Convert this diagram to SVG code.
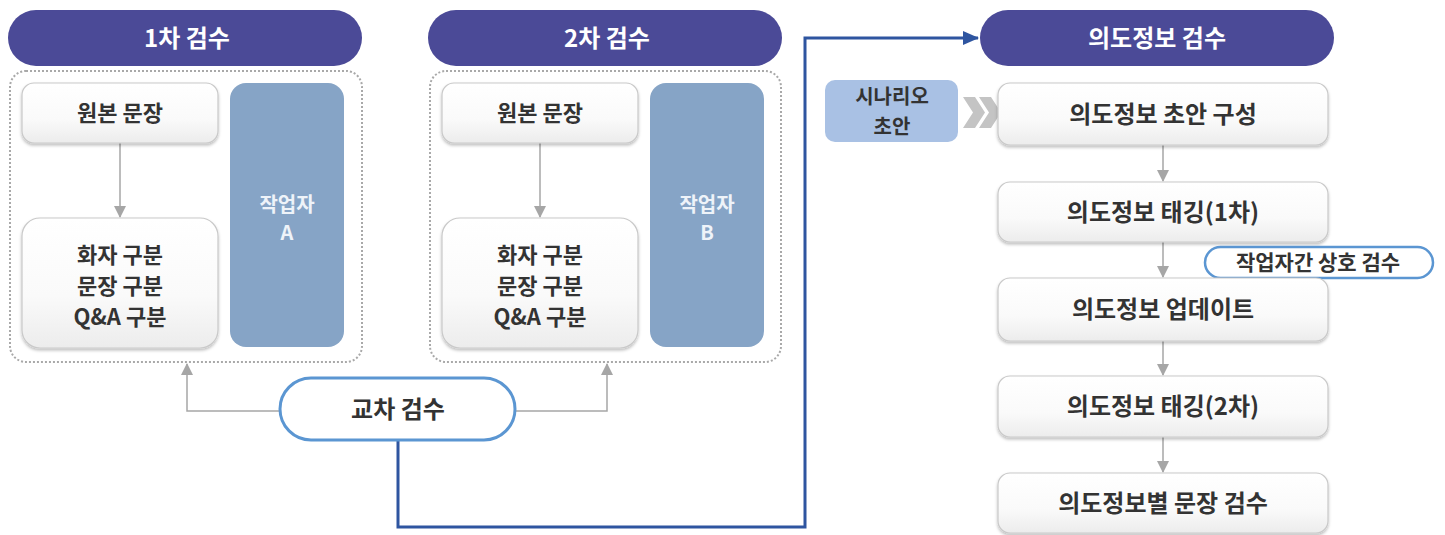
<svg xmlns="http://www.w3.org/2000/svg" width="1445" height="535" viewBox="0 0 1445 535">
<defs>
<linearGradient id="g" x1="0" y1="0" x2="0" y2="1"><stop offset="0" stop-color="#ffffff"/><stop offset="0.6" stop-color="#fafafa"/><stop offset="1" stop-color="#ececec"/></linearGradient>
<filter id="sh" x="-10%" y="-10%" width="120%" height="130%"><feDropShadow dx="0" dy="2" stdDeviation="1.5" flood-color="#000" flood-opacity="0.25"/></filter>
<marker id="ga" markerWidth="12" markerHeight="12" refX="11" refY="6" orient="auto" markerUnits="userSpaceOnUse"><path d="M0,0 L12,6 L0,12 Z" fill="#a6a6a6"/></marker>
<marker id="ba" markerWidth="16" markerHeight="14" refX="15" refY="7" orient="auto" markerUnits="userSpaceOnUse"><path d="M0,0 L16,7 L0,14 Z" fill="#2e55a0"/></marker>
</defs>
<style>
text{font-family:"Noto Sans CJK KR","Noto Sans",sans-serif;font-weight:700;text-anchor:middle}
.hd{fill:#4b4a97}
.hdt{fill:#fff;font-size:24px}
.box{fill:url(#g);stroke:#c9c9c9;stroke-width:1.2;filter:url(#sh)}
.bt{fill:#333;font-size:22px}
.rt{fill:#333;font-size:24px}
.wk{fill:#86a4c6}
.wkt{fill:#eef3f9;font-size:20px}
.cont{fill:none;stroke:#a9a9a9;stroke-width:2;stroke-dasharray:2 2}
.pill{fill:#fff;stroke:#5b96d2;stroke-width:3}
.gl{fill:none;stroke:#a6a6a6;stroke-width:1.5}
.bl{fill:none;stroke:#2e55a0;stroke-width:3}
</style>

<g id="connectors">
<path class="gl" d="M120,143 V217" marker-end="url(#ga)"/>
<path class="gl" d="M540,143 V217" marker-end="url(#ga)"/>
<path class="gl" d="M280,411 H187 V364" marker-end="url(#ga)"/>
<path class="gl" d="M515,411 H607 V364" marker-end="url(#ga)"/>
<path class="bl" d="M398,440 V527 H805 V38 H978" marker-end="url(#ba)"/>
<path class="gl" d="M1163,145 V181" marker-end="url(#ga)"/>
<path class="gl" d="M1163,242 V277" marker-end="url(#ga)"/>
<path class="gl" d="M1163,341 V375" marker-end="url(#ga)"/>
<path class="gl" d="M1163,437 V472" marker-end="url(#ga)"/>
<polygon points="963,97 975,97 985,112.5 975,128 963,128 973,112.5" fill="#c4c4c4"/>
<polygon points="979,97 991,97 1001,112.5 991,128 979,128 989,112.5" fill="#c4c4c4"/>
</g>

<g id="stage1">
<rect class="hd" x="8" y="10" width="354" height="56" rx="28"/>
<text class="hdt" x="187" y="47">1차 검수</text>
<rect class="cont" x="10" y="71" width="352" height="291" rx="16"/>
</g>
<g id="orig1">
<rect class="box" x="22" y="83" width="196" height="60" rx="12"/>
<text class="bt" x="120" y="121">원본 문장</text>
</g>
<g id="split1">
<rect class="box" x="22" y="218" width="196" height="130" rx="18"/>
<text class="bt" x="120" y="263">화자 구분</text>
<text class="bt" x="120" y="294">문장 구분</text>
<text class="bt" x="120" y="325">Q&amp;A 구분</text>
</g>
<g id="workerA">
<rect class="wk" x="230" y="83" width="114" height="264" rx="16"/>
<text class="wkt" x="287" y="212">작업자</text>
<text class="wkt" x="287" y="240">A</text>
</g>

<g id="stage2">
<rect class="hd" x="428" y="10" width="354" height="56" rx="28"/>
<text class="hdt" x="607" y="47">2차 검수</text>
<rect class="cont" x="430" y="71" width="351" height="291" rx="16"/>
</g>
<g id="orig2">
<rect class="box" x="442" y="83" width="196" height="60" rx="12"/>
<text class="bt" x="540" y="121">원본 문장</text>
</g>
<g id="split2">
<rect class="box" x="442" y="218" width="196" height="130" rx="18"/>
<text class="bt" x="540" y="263">화자 구분</text>
<text class="bt" x="540" y="294">문장 구분</text>
<text class="bt" x="540" y="325">Q&amp;A 구분</text>
</g>
<g id="workerB">
<rect class="wk" x="650" y="83" width="114" height="264" rx="16"/>
<text class="wkt" x="707" y="212">작업자</text>
<text class="wkt" x="707" y="240">B</text>
</g>

<g id="cross">
<rect class="pill" x="280" y="378" width="235" height="62" rx="31"/>
<text class="bt" x="398" y="418" style="font-size:24px">교차 검수</text>
</g>

<g id="stage3">
<rect class="hd" x="980" y="10" width="354" height="56" rx="28"/>
<text class="hdt" x="1157" y="47">의도정보 검수</text>
</g>
<g id="scenario">
<rect x="825" y="80" width="133" height="62" rx="10" fill="#a9c1e4"/>
<text class="bt" x="892" y="104" style="font-size:20px">시나리오</text>
<text class="bt" x="892" y="134" style="font-size:20px">초안</text>
</g>
<g id="r1">
<rect class="box" x="998" y="83" width="330" height="62" rx="12"/>
<text class="rt" x="1163" y="123">의도정보 초안 구성</text>
</g>
<g id="r2">
<rect class="box" x="998" y="182" width="330" height="60" rx="12"/>
<text class="rt" x="1163" y="221">의도정보 태깅(1차)</text>
</g>
<g id="mutual">
<rect class="pill" x="1205" y="247" width="228" height="31" rx="15.5" style="stroke-width:2.5"/>
<text class="bt" x="1318" y="270" style="font-size:21px">작업자간 상호 검수</text>
</g>
<g id="r3">
<rect class="box" x="998" y="278" width="330" height="63" rx="12"/>
<text class="rt" x="1163" y="318">의도정보 업데이트</text>
</g>
<g id="r4">
<rect class="box" x="998" y="376" width="330" height="61" rx="12"/>
<text class="rt" x="1163" y="415">의도정보 태깅(2차)</text>
</g>
<g id="r5">
<rect class="box" x="998" y="473" width="330" height="60" rx="12"/>
<text class="rt" x="1163" y="512">의도정보별 문장 검수</text>
</g>
</svg>
